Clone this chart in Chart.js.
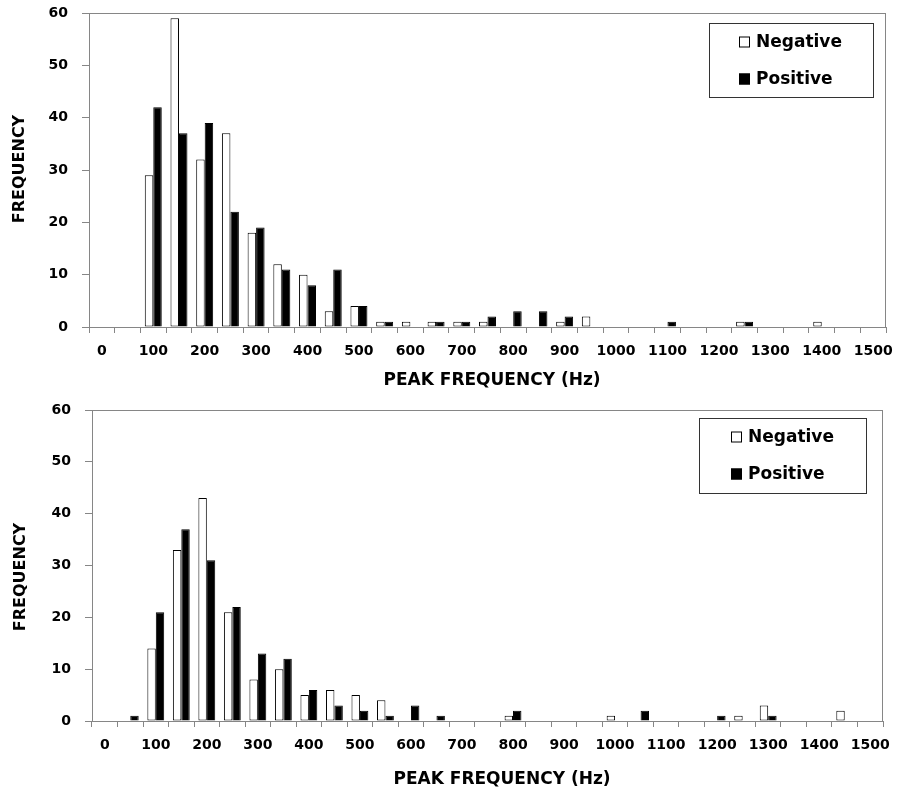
<!DOCTYPE html>
<html>
<head>
<meta charset="utf-8">
<script src="https://cdn.jsdelivr.net/npm/chart.js@4.4.0/dist/chart.umd.min.js"></script>
<style>
  body { margin: 0; background: #fff; }
  .caja { position: absolute; left: 0; width: 897px; }
</style>
</head>
<body>
<div class="caja" style="top:0;height:397px"><canvas id="graficaArriba"></canvas></div>
<div class="caja" style="top:397px;height:400px"><canvas id="graficaAbajo"></canvas></div>
<script>
// Clases de frecuencia pico (Hz), una cada 50 Hz
const categorias = ['0','50','100','150','200','250','300','350','400','450','500','550','600','650','700','750',
                    '800','850','900','950','1000','1050','1100','1150','1200','1250','1300','1350','1400','1450','1500']

// Gráfica de arriba
const negativoArriba = [0,0,29,59,32,37,18,12,10,3,4,1,1,1,1,1,0,0,1,2,0,0,0,0,0,1,0,0,1,0,0]
const positivoArriba = [0,0,42,37,39,22,19,11,8,11,4,1,0,1,1,2,3,3,2,0,0,0,1,0,0,1,0,0,0,0,0]

// Gráfica de abajo
const negativoAbajo = [0,0,14,33,43,21,8,10,5,6,5,4,0,0,0,0,1,0,0,0,1,0,0,0,0,1,3,0,0,2,0]
const positivoAbajo = [0,1,21,37,31,22,13,12,6,3,2,1,3,1,0,0,2,0,0,0,0,2,0,0,1,0,1,0,0,0,0]

const yMax = 60
const yPaso = 10
const gris = '#868686'

Chart.defaults.font.family = 'DejaVu Sans'
Chart.defaults.font.weight = 'bold'
Chart.defaults.color = '#000'

// Marco, leyenda y títulos de ejes dibujados a mano
const extras = {
    id: 'extras',
    afterDraw(chart, args, o) {
        const ctx = chart.ctx
        const a = chart.chartArea
        ctx.save()
        ctx.strokeStyle = gris
        ctx.lineWidth = 1
        ctx.strokeRect(Math.round(a.left) + 0.5, Math.round(a.top) + 0.5,
                       Math.round(a.right - a.left) - 1, Math.round(a.bottom - a.top))

        // leyenda
        const L = o.leyenda
        ctx.strokeStyle = '#333'
        ctx.strokeRect(L.x + 0.5, L.y + 0.5, L.w, L.h)
        ctx.font = 'bold 17px "DejaVu Sans"'
        ctx.textBaseline = 'middle'
        ctx.textAlign = 'left'
        chart.data.datasets.forEach((ds, i) => {
            const cy = L.y + L.fila[i]
            ctx.fillStyle = ds.backgroundColor
            ctx.fillRect(L.x + L.cuadro, cy - 5.5, 11, 11)
            ctx.strokeStyle = '#000'
            ctx.strokeRect(L.x + L.cuadro + 0.5, cy - 5, 10, 10)
            ctx.fillStyle = '#000'
            ctx.fillText(ds.label, L.x + L.texto, cy + 1)
        })

        // títulos
        ctx.textAlign = 'center'
        ctx.font = 'bold 17px "DejaVu Sans"'
        ctx.fillText(o.tituloX.text, o.tituloX.x, o.tituloX.y)
        ctx.translate(o.tituloY.x, o.tituloY.y)
        ctx.rotate(-Math.PI / 2)
        ctx.font = 'bold 16px "DejaVu Sans"'
        ctx.fillText(o.tituloY.text, 0, 0)
        ctx.restore()
    }
}

function grafica(id, negativo, positivo, g) {
    const ctx = document.getElementById(id)
    const config = {
        type: 'bar',
        data: {
            labels: categorias,
            datasets: [{
                label: 'Negative',
                data: negativo,
                backgroundColor: '#ffffff',
                borderColor: '#000000',
                borderWidth: 1,
                borderSkipped: false
            },
            {
                label: 'Positive',
                data: positivo,
                backgroundColor: '#000000',
                borderColor: '#000000',
                borderWidth: 1
            }]
        },
        options: {
            responsive: true,
            maintainAspectRatio: false,
            animation: false,
            datasets: { bar: { categoryPercentage: 0.66, barPercentage: 1.0 } },
            layout: { padding: { left: 0, right: g.derecha, top: 13, bottom: 0 } },
            plugins: {
                legend: { display: false },
                tooltip: { enabled: false },
                extras: {
                    leyenda: g.leyenda,
                    tituloX: { text: 'PEAK FREQUENCY (Hz)', x: g.tx[0], y: g.tx[1] },
                    tituloY: { text: 'FREQUENCY', x: g.ty[0], y: g.ty[1] }
                }
            },
            scales: {
                x: {
                    offset: true,
                    grid: { offset: true, drawOnChartArea: false, tickLength: 6, color: gris },
                    border: { color: gris },
                    ticks: {
                        autoSkip: false,
                        maxRotation: 0,
                        padding: 10,
                        font: { size: 14, weight: 'bold' },
                        callback: function(v, i) { return i % 2 === 0 ? this.getLabelForValue(v) : '' }
                    },
                    afterFit: s => { s.height = g.altoX; s.paddingLeft = 0; s.paddingRight = 0 }
                },
                y: {
                    min: 0,
                    max: yMax,
                    ticks: { stepSize: yPaso, padding: 14, font: { size: 14, weight: 'bold' } },
                    grid: { drawOnChartArea: false, tickLength: 7, color: gris },
                    border: { color: gris },
                    afterFit: s => { s.width = g.anchoY; s.paddingTop = 0; s.paddingBottom = 0 }
                }
            }
        },
        plugins: [extras]
    }
    return new Chart(ctx, config)
}

grafica('graficaArriba', negativoArriba, positivoArriba, {
    derecha: 11, anchoY: 89, altoX: 70,
    leyenda: { x: 709, y: 23, w: 164, h: 74, cuadro: 30, texto: 47, fila: [19, 56] },
    tx: [492, 381], ty: [20, 169]
})

grafica('graficaAbajo', negativoAbajo, positivoAbajo, {
    derecha: 14, anchoY: 92, altoX: 76,
    leyenda: { x: 699, y: 21, w: 167, h: 75, cuadro: 32, texto: 49, fila: [19, 56] },
    tx: [502, 383], ty: [21, 180]
})
</script>
</body>
</html>
